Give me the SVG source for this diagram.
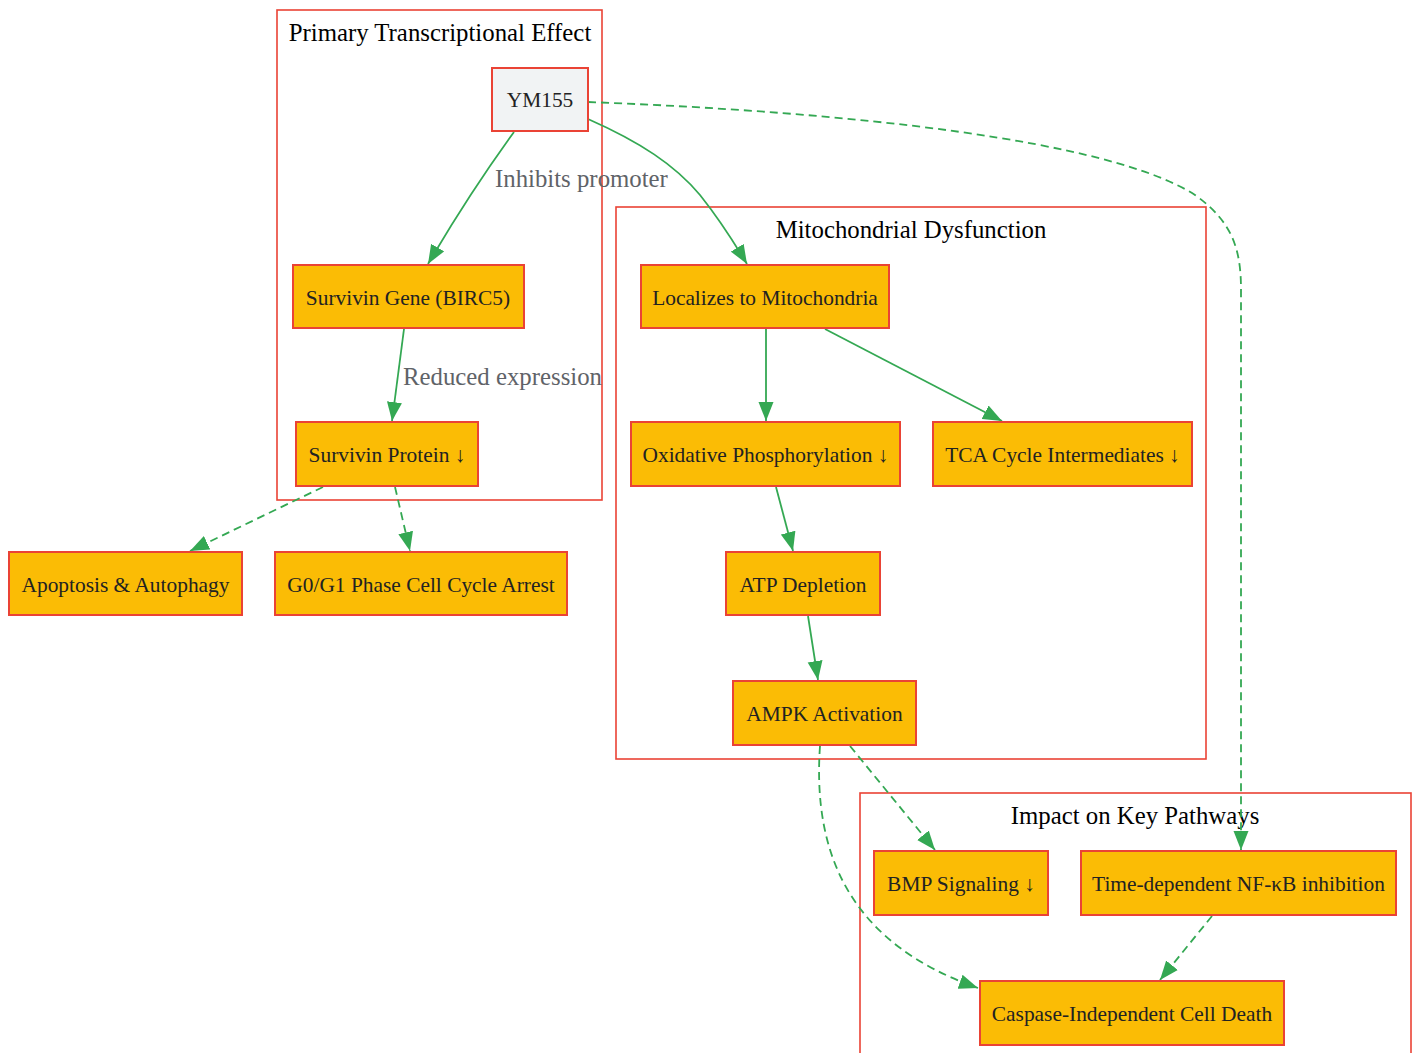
<svg xmlns="http://www.w3.org/2000/svg" width="1417" height="1053" viewBox="0 0 1417 1053">
<style>
.cluster{fill:none;stroke:#EA4335;stroke-width:1.6}
.ctitle{font-family:"Liberation Serif",serif;font-size:24.8px;fill:#000;text-anchor:middle}
.node rect{fill:#FBBC05;stroke:#EA4335;stroke-width:2}
.node text{font-family:"Liberation Serif",serif;font-size:21.4px;fill:#222;text-anchor:middle;dominant-baseline:central}
.start rect{fill:#F1F3F4}
.edge{fill:none;stroke:#34A853;stroke-width:1.8}
.dash{stroke-dasharray:8,5}
.elabel{font-family:"Liberation Serif",serif;font-size:24.8px;fill:#5F6368}
</style>
<defs>
<marker id="arr" markerUnits="userSpaceOnUse" markerWidth="19" markerHeight="16" viewBox="0 0 19 16" refX="19" refY="8" orient="auto">
<path d="M0,0.5 L19,8 L0,15.5 Z" fill="#34A853"/>
</marker>
</defs>
<rect width="1417" height="1053" fill="#fff"/>
<g id="clusters">
<rect class="cluster" x="277" y="10" width="325" height="490"/>
<text class="ctitle" x="440" y="41">Primary Transcriptional Effect</text>
<rect class="cluster" x="616" y="207" width="590" height="552"/>
<text class="ctitle" x="911" y="238">Mitochondrial Dysfunction</text>
<rect class="cluster" x="860" y="793" width="551" height="270"/>
<text class="ctitle" x="1135" y="824">Impact on Key Pathways</text>
</g>
<g id="connectors">
<path class="edge" d="M514,132 C490,165 455,218 428,264" marker-end="url(#arr)"/>
<path class="edge" d="M404,329 L392,421" marker-end="url(#arr)"/>
<path class="edge" d="M588,119 C640,142 675,165 700,195 C720,220 735,244 747,264" marker-end="url(#arr)"/>
<path class="edge dash" d="M588,102 C850,112 1110,140 1195,195 C1233,222 1241,250 1241,290 L1241,850" marker-end="url(#arr)"/>
<path class="edge dash" d="M323,487 L190,551" marker-end="url(#arr)"/>
<path class="edge dash" d="M395,487 L410,551" marker-end="url(#arr)"/>
<path class="edge" d="M766,329 L766,421" marker-end="url(#arr)"/>
<path class="edge" d="M825,329 L1002,421" marker-end="url(#arr)"/>
<path class="edge" d="M776,487 L793,551" marker-end="url(#arr)"/>
<path class="edge" d="M808,616 L818,680" marker-end="url(#arr)"/>
<path class="edge dash" d="M850,746 L935,850" marker-end="url(#arr)"/>
<path class="edge dash" d="M820,746 C812,860 855,945 978,988" marker-end="url(#arr)"/>
<path class="edge dash" d="M1212,916 L1160,980" marker-end="url(#arr)"/>
<text class="elabel" x="495" y="187">Inhibits promoter</text>
<text class="elabel" x="403" y="385">Reduced expression</text>
</g>
<g id="n-ym155" class="node start"><rect x="492" y="68" width="96" height="63"/><text x="540" y="100">YM155</text></g>
<g id="n-gene" class="node"><rect x="293" y="265" width="231" height="63"/><text x="408" y="298">Survivin Gene (BIRC5)</text></g>
<g id="n-protein" class="node"><rect x="296" y="422" width="182" height="64"/><text x="387" y="455">Survivin Protein ↓</text></g>
<g id="n-apoptosis" class="node"><rect x="9" y="552" width="233" height="63"/><text x="125.5" y="585">Apoptosis &amp; Autophagy</text></g>
<g id="n-g0g1" class="node"><rect x="275" y="552" width="292" height="63"/><text x="421" y="585">G0/G1 Phase Cell Cycle Arrest</text></g>
<g id="n-localizes" class="node"><rect x="641" y="265" width="248" height="63"/><text x="765" y="298">Localizes to Mitochondria</text></g>
<g id="n-oxphos" class="node"><rect x="631" y="422" width="269" height="64"/><text x="765.5" y="455">Oxidative Phosphorylation ↓</text></g>
<g id="n-tca" class="node"><rect x="933" y="422" width="259" height="64"/><text x="1062.5" y="455">TCA Cycle Intermediates ↓</text></g>
<g id="n-atp" class="node"><rect x="726" y="552" width="154" height="63"/><text x="803" y="585">ATP Depletion</text></g>
<g id="n-ampk" class="node"><rect x="733" y="681" width="183" height="64"/><text x="824.5" y="714">AMPK Activation</text></g>
<g id="n-bmp" class="node"><rect x="874" y="851" width="174" height="64"/><text x="961" y="884">BMP Signaling ↓</text></g>
<g id="n-nfkb" class="node"><rect x="1081" y="851" width="315" height="64"/><text x="1238.5" y="884">Time-dependent NF-κB inhibition</text></g>
<g id="n-caspase" class="node"><rect x="980" y="981" width="304" height="64"/><text x="1132" y="1014">Caspase-Independent Cell Death</text></g>
</svg>
